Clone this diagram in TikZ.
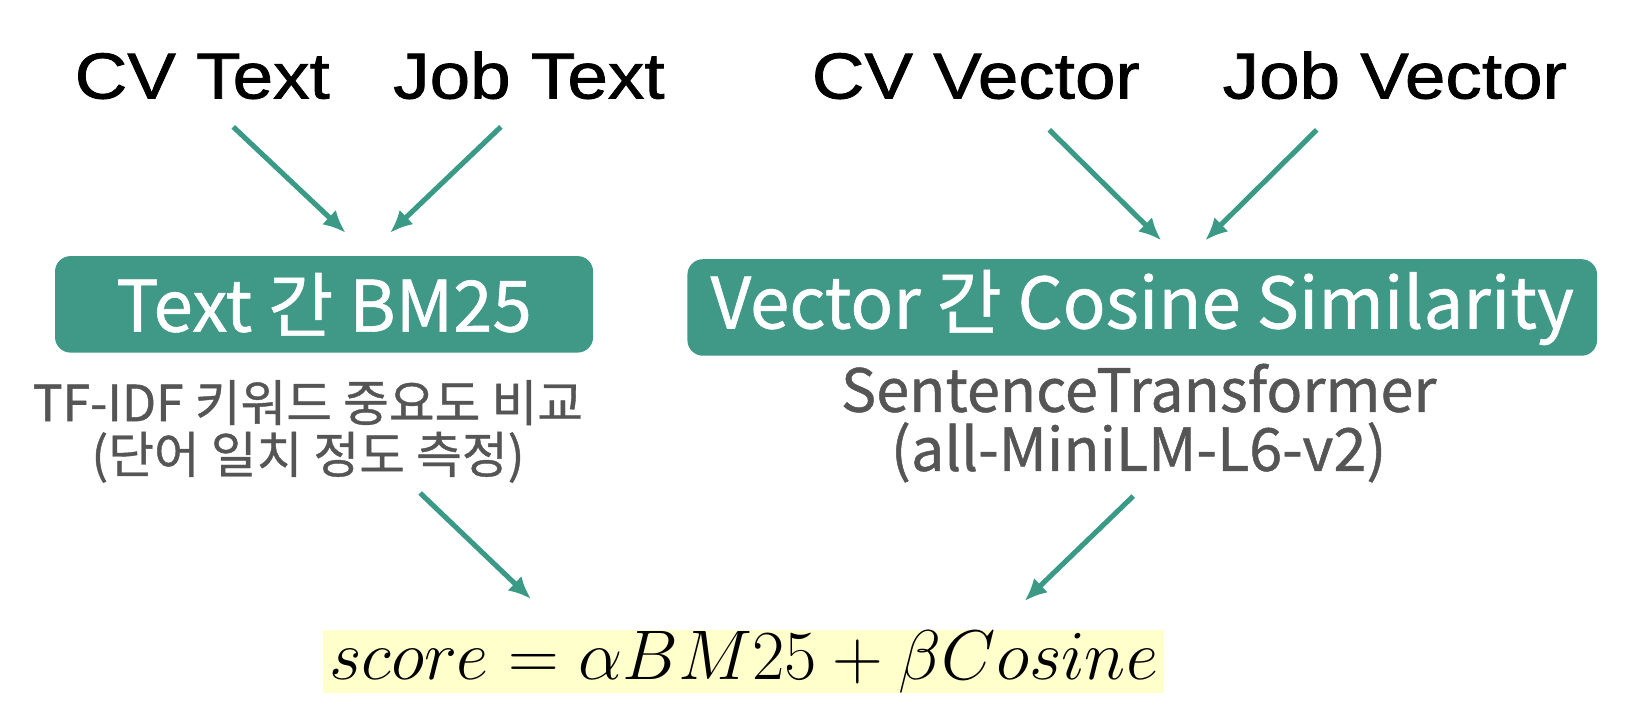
\RequirePackage{fix-cm}
\documentclass[tikz,border=0pt]{standalone}
\usepackage{fontspec}
\setmainfont{Noto Sans CJK KR}[FakeBold=0.8]
\newfontfamily\inputfont{Liberation Sans}[FakeStretch=1.12, FakeBold=1.2]
\usetikzlibrary{positioning,arrows.meta}
\definecolor{tealbox}{RGB}{64,153,135}
\definecolor{tealarrow}{RGB}{58,154,133}
\definecolor{subgray}{RGB}{85,85,85}
\definecolor{hilite}{RGB}{255,255,204}
\tikzset{
    intext/.style={inner sep=0, anchor=base, text height=0.9cm, text depth=0.2cm,
        font=\fontsize{37}{40}\selectfont\inputfont},
    methodbox/.style={fill=tealbox, rounded corners=0.31cm, inner sep=0,
        minimum height=1.93cm, text=white, font=\fontsize{40.3}{42}\selectfont},
    subtext/.style={inner sep=0, align=center, text=subgray},
    flow/.style={->, >={Latex[length=0.45cm,width=0.4cm]}, line width=2.9pt, draw=tealarrow},
}
\begin{document}
\begin{tikzpicture}[x=0.020737cm,y=-0.020737cm]
    \useasboundingbox (0,0) rectangle (1568,700.1);

    % inputs
    \node[intext] (cvtext) at (195,95) {CV Text};
    \node[intext] (jobtext) at (510,95) {Job Text};
    \node[intext] (cvvec) at (941,95) {CV Vector};
    \node[intext] (jobvec) at (1345,95) {Job Vector};

    % methods
    \node[methodbox, minimum width=10.76cm] (bm) at (312.5,293.5) {Text 간 BM25};
    \node[methodbox, minimum width=18.19cm] (cos) at (1101.5,296.5) {Vector 간 Cosine Similarity};
    \node[subtext, font=\fontsize{28.3}{29.5}\selectfont] (bmsub) at (297,416)
        {TF-IDF 키워드 중요도 비교\\(단어 일치 정도 측정)};
    \node[subtext, font=\fontsize{33.8}{33.6}\selectfont] (cossub) at (1098,408)
        {SentenceTransformer\\(all-MiniLM-L6-v2)};

    % result
    \node[fill=hilite, inner sep=0, minimum width=16.8cm, minimum height=1.24cm,
        font=\fontsize{40}{42}\selectfont] (score) at (717,638)
        {$score = \alpha BM25 + \beta Cosine$};

    \draw[flow] ([xshift=0.62cm,yshift=-0.36cm]cvtext.south) -- ([xshift=0.43cm,yshift=0.46cm]bm.north);
    \draw[flow] ([xshift=-0.56cm,yshift=-0.36cm]jobtext.south) -- ([xshift=1.32cm,yshift=0.46cm]bm.north);
    \draw[flow] ([xshift=1.47cm,yshift=-0.42cm]cvvec.south) -- ([xshift=0.38cm,yshift=0.37cm]cos.north);
    \draw[flow] ([xshift=-1.56cm,yshift=-0.42cm]jobvec.south) -- ([xshift=1.26cm,yshift=0.37cm]cos.north);

    \draw[flow] ([xshift=1.92cm,yshift=-2.8cm]bm.south) -- ([xshift=-4.25cm,yshift=0.62cm]score.north);
    \draw[flow] ([xshift=-0.18cm,yshift=-2.8cm]cos.south) -- ([xshift=5.62cm,yshift=0.58cm]score.north);
\end{tikzpicture}
\end{document}
